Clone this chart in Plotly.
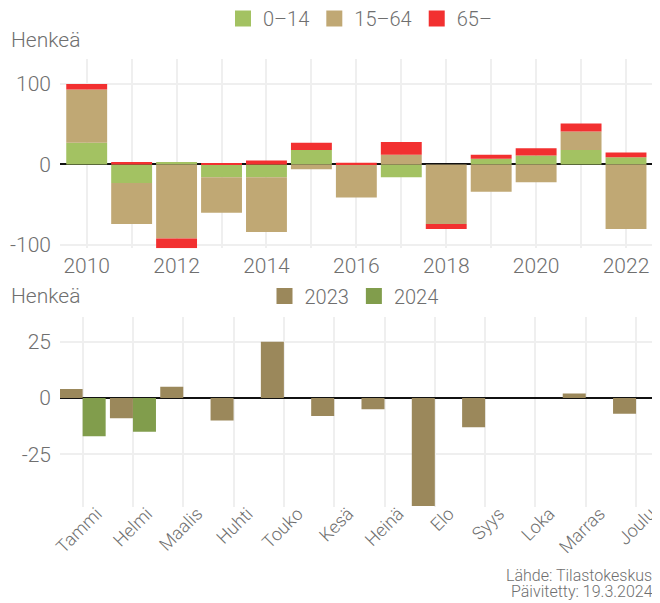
import plotly.graph_objects as go

# ---- Data: top chart (annual change by age group) ----
years = list(range(2010, 2023))
age_0_14 = [27, -23, 3, -16, -16, 18, 0, -16, 0, 7, 11, 18, 9]
age_15_64 = [66, -51, -92, -44, -68, -6, -41, 12, -74, -34, -22, 23, -80]
age_65 = [7, 3, -12, 1, 5, 9, 2, 16, -6, 5, 9, 10, 6]
age_names = ["0–14", "15–64", "65–"]
top_yticks = [-100, 0, 100]

# ---- Data: bottom chart (monthly change) ----
months = ["Tammi", "Helmi", "Maalis", "Huhti", "Touko", "Kesä",
          "Heinä", "Elo", "Syys", "Loka", "Marras", "Joulu"]
net_2023 = [4, -9, 5, -10, 25, -8, -5, -48, -13, 0, 2, -7]
net_2024 = [-17, -15]
year_names = ["2023", "2024"]
bottom_yticks = [-25, 0, 25]

# ---- Styles ----
age_colors = ["#A3C262", "#C0A874", "#F23030"]
year_colors = ["#9B885B", "#819D4C"]
GRAY = "#6f6f6f"
GRID = "#efefef"
FONT = "Roboto"
WT = 300
OFF = 8  # page body margin
W, H = 660 - OFF, 603 - OFF


def px(x):
    return (x - OFF) / W


def py(y):
    return 1 - (y - OFF) / H


def f(size):
    return dict(family=FONT, size=size, color=GRAY, weight=WT)


fig = go.Figure()

for vals, name, color in zip([age_0_14, age_15_64, age_65], age_names, age_colors):
    fig.add_trace(go.Bar(x=years, y=vals, name=name, marker=dict(color=color, line_width=0),
                         xaxis="x", yaxis="y", showlegend=False))
    fig.add_trace(go.Scatter(x=[None], y=[None], mode="markers", name=name,
                             marker=dict(symbol="square", size=16, color=color),
                             xaxis="x", yaxis="y", legend="legend", hoverinfo="skip"))

bw = 0.4575
fig.add_trace(go.Bar(x=months, y=net_2023, name=year_names[0],
                     marker=dict(color=year_colors[0], line_width=0),
                     offset=-bw, width=bw, xaxis="x2", yaxis="y2", showlegend=False))
fig.add_trace(go.Bar(x=months[:len(net_2024)], y=net_2024, name=year_names[1],
                     marker=dict(color=year_colors[1], line_width=0),
                     offset=0, width=bw, xaxis="x3", yaxis="y2", showlegend=False))
for name, color in zip(year_names, year_colors):
    fig.add_trace(go.Scatter(x=[None], y=[None], mode="markers", name=name,
                             marker=dict(symbol="square", size=16, color=color),
                             xaxis="x2", yaxis="y2", legend="legend2", hoverinfo="skip"))

xdom = [px(60), px(657.7)]

fig.update_layout(
    width=W, height=H,
    margin=dict(l=0, r=0, t=0, b=0, autoexpand=False),
    paper_bgcolor="white", plot_bgcolor="white",
    barmode="relative", bargap=0.09,
    font=dict(family=FONT, color=GRAY, weight=WT),
    xaxis=dict(domain=xdom, anchor="y", range=[2009.406, 2022.705],
               tickvals=years, ticktext=[str(y) if y % 2 == 0 else "" for y in years],
               showgrid=True, gridcolor=GRID, gridwidth=1.5, zeroline=False,
               showline=False, ticks="", tickfont=f(21), automargin=False,
               ticklabelstandoff=3),
    yaxis=dict(domain=[py(248.2), py(59)], anchor="x", range=[-104, 131],
               tickvals=top_yticks, ticktext=[str(v) for v in top_yticks],
               showgrid=True, gridcolor=GRID, gridwidth=1.5,
               zeroline=True, zerolinecolor="#111111", zerolinewidth=1.5,
               showline=False, ticks="", tickfont=f(21), automargin=False,
               ticklabelstandoff=8),
    xaxis2=dict(domain=xdom, anchor="y2", type="category", categoryorder="array",
                categoryarray=months, range=[-0.45, 11.43], tickangle=-45,
                showgrid=True, gridcolor=GRID, gridwidth=1.5, zeroline=False,
                showline=False, ticks="", automargin=False,
                tickfont=f(18), ticklabelshift=14, ticklabelstandoff=-8),
    xaxis3=dict(domain=xdom, anchor="y2", overlaying="x2", type="category",
                categoryorder="array", categoryarray=months, range=[-0.45, 11.43],
                visible=False),
    yaxis2=dict(domain=[py(506.7), py(317)], anchor="x2", range=[-48.3, 36],
                tickvals=bottom_yticks, ticktext=[str(v) for v in bottom_yticks],
                showgrid=True, gridcolor=GRID, gridwidth=1.5,
                zeroline=True, zerolinecolor="#111111", zerolinewidth=1.5,
                showline=False, ticks="", tickfont=f(21), automargin=False,
                ticklabelstandoff=8),
    legend=dict(orientation="h", x=px(360), xanchor="center", y=py(18.5), yanchor="middle",
                font=f(20), bgcolor="rgba(0,0,0,0)",
                itemclick=False, itemdoubleclick=False),
    legend2=dict(orientation="h", x=px(354), xanchor="center", y=py(296), yanchor="middle",
                 font=f(20), bgcolor="rgba(0,0,0,0)",
                 itemclick=False, itemdoubleclick=False),
    annotations=[
        dict(text="Henkeä", x=px(9), y=py(40), xref="paper", yref="paper",
             xanchor="left", yanchor="middle", showarrow=False, font=f(21)),
        dict(text="Henkeä", x=px(9), y=py(296), xref="paper", yref="paper",
             xanchor="left", yanchor="middle", showarrow=False, font=f(21)),
        dict(text="Lähde: Tilastokeskus.", x=px(658), y=py(575), xref="paper", yref="paper",
             xanchor="right", yanchor="middle", showarrow=False, font=f(16)),
        dict(text="Päivitetty: 19.3.2024.", x=px(658), y=py(591), xref="paper", yref="paper",
             xanchor="right", yanchor="middle", showarrow=False, font=f(16)),
    ],
    hovermode=False,
)

fig.write_html("out.html")
